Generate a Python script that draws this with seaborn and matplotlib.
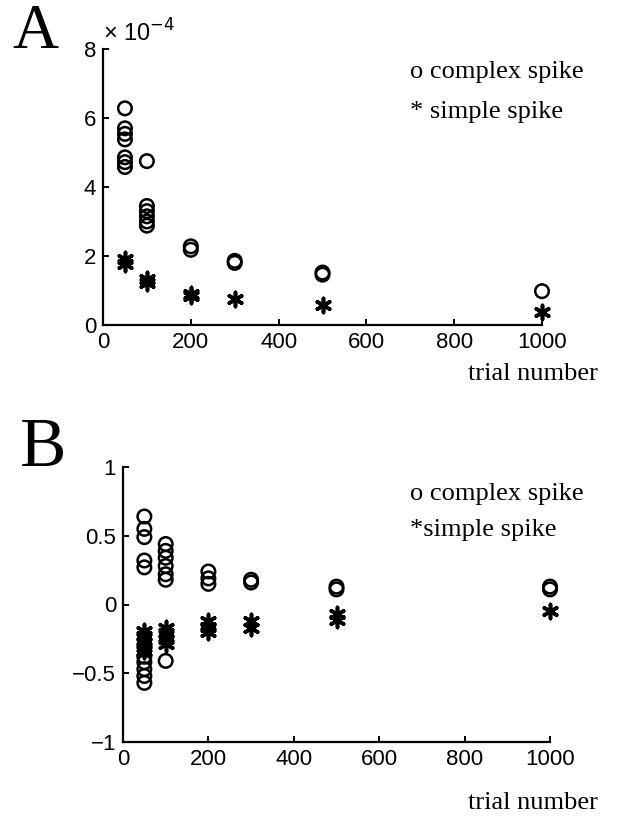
import matplotlib
matplotlib.use("Agg")
import matplotlib.pyplot as plt
import seaborn as sns
import pandas as pd

# Panel A: firing-rate change (units of 1e-4) versus trial number
a_complex_trial = [50, 50, 50, 50, 50, 50, 50,
                   100, 100, 100, 100, 100, 100,
                   200, 200, 300, 300, 500, 500, 1000]
a_complex_value = [6.28, 5.70, 5.54, 5.38, 4.86, 4.72, 4.58,
                   4.75, 3.45, 3.30, 3.15, 3.00, 2.88,
                   2.28, 2.18, 1.86, 1.80, 1.52, 1.46, 0.98]
a_simple_trial = [50, 50, 100, 100, 200, 200, 300, 500, 1000]
a_simple_value = [1.92, 1.78, 1.32, 1.22, 0.90, 0.85, 0.74, 0.58, 0.39]

# Panel B: signed values versus trial number
b_complex_trial = [50, 50, 50, 50, 50, 50, 50, 50, 50, 50,
                   100, 100, 100, 100, 100, 100, 100,
                   200, 200, 200, 300, 300, 500, 500, 1000, 1000]
b_complex_value = [0.64, 0.55, 0.49, 0.32, 0.27, -0.38, -0.42, -0.47, -0.52, -0.57,
                   0.44, 0.39, 0.34, 0.28, 0.22, 0.18, -0.41,
                   0.24, 0.19, 0.15, 0.18, 0.16, 0.13, 0.11, 0.13, 0.11]
b_simple_trial = [50, 50, 50, 50, 50, 100, 100, 100, 100,
                  200, 200, 200, 300, 300, 500, 500, 1000]
b_simple_value = [-0.19, -0.23, -0.27, -0.31, -0.34, -0.17, -0.21, -0.25, -0.29,
                  -0.12, -0.16, -0.20, -0.12, -0.17, -0.07, -0.11, -0.05]

x_ticks = [0, 200, 400, 600, 800, 1000]
a_y_ticks = [0, 2, 4, 6, 8]
b_y_ticks = [-1, -0.5, 0, 0.5, 1]
b_y_labels = ["\u22121", "\u22120.5", "0", "0.5", "1"]

sns.set_theme(style="ticks")
plt.rcParams["font.family"] = ["Liberation Sans", "DejaVu Sans"]
plt.rcParams["text.color"] = "black"

W, H = 621, 832
fig = plt.figure(figsize=(W / 100, H / 100), dpi=100)


def box(l, t, r, b):
    return [l / W, 1 - b / H, (r - l) / W, (b - t) / H]


ax_a = fig.add_axes(box(103, 49, 542, 325))
ax_b = fig.add_axes(box(123, 467, 550, 742))

asterisk = (6, 2, 0)
serif = ["Liberation Serif", "DejaVu Serif"]


def draw(ax, ct, cv, st, sv):
    dc = pd.DataFrame({"trial": ct, "value": cv})
    ds = pd.DataFrame({"trial": st, "value": sv})
    sns.scatterplot(data=dc, x="trial", y="value", ax=ax, marker="o",
                    s=95, facecolors="none", edgecolor="black",
                    linewidth=1.8, legend=False, zorder=3, clip_on=False)
    sns.scatterplot(data=ds, x="trial", y="value", ax=ax, marker=asterisk,
                    s=105, color="black", linewidth=2.6, legend=False, zorder=3,
                    clip_on=False)
    ax.set_xlim(0, 1000)
    ax.set_xticks(x_ticks)
    ax.set_xticklabels([str(t) for t in x_ticks], fontsize=16)
    ax.set_xlabel("")
    ax.set_ylabel("")
    for side in ("top", "right"):
        ax.spines[side].set_visible(False)
    for side in ("left", "bottom"):
        ax.spines[side].set_linewidth(1.6)
        ax.spines[side].set_color("black")
    ax.tick_params(direction="in", length=4, width=1.4, colors="black",
                   labelcolor="black", labelsize=16, pad=5)
    ax.set_facecolor("white")


draw(ax_a, a_complex_trial, a_complex_value, a_simple_trial, a_simple_value)
ax_a.set_ylim(0, 8)
ax_a.set_yticks(a_y_ticks)
ax_a.set_yticklabels([str(t) for t in a_y_ticks], fontsize=16)

draw(ax_b, b_complex_trial, b_complex_value, b_simple_trial, b_simple_value)
ax_b.set_ylim(-1, 1)
ax_b.set_yticks(b_y_ticks)
ax_b.set_yticklabels(b_y_labels, fontsize=16)

# scale factor for panel A
fig.text(103 / W, 1 - 33 / H, "\u00d7 10$^{-4}$", fontsize=17, ha="left", va="center")

# panel letters
fig.text(12 / W, 1 - 33 / H, "A", fontsize=46, family=serif, ha="left", va="center")
fig.text(20 / W, 1 - 449 / H, "B", fontsize=50, family=serif, ha="left", va="center")

# marker keys
fig.text(410 / W, 1 - 72 / H, "o complex spike", fontsize=19, family=serif, va="center")
fig.text(410 / W, 1 - 112 / H, "* simple spike", fontsize=19, family=serif, va="center")
fig.text(410 / W, 1 - 494 / H, "o complex spike", fontsize=19, family=serif, va="center")
fig.text(410 / W, 1 - 530 / H, "*simple spike", fontsize=19, family=serif, va="center")

# axis titles
fig.text(598 / W, 1 - 374 / H, "trial number", fontsize=19, family=serif, ha="right", va="center")
fig.text(598 / W, 1 - 803 / H, "trial number", fontsize=19, family=serif, ha="right", va="center")

fig.savefig("out.png", dpi=100, facecolor="white")
